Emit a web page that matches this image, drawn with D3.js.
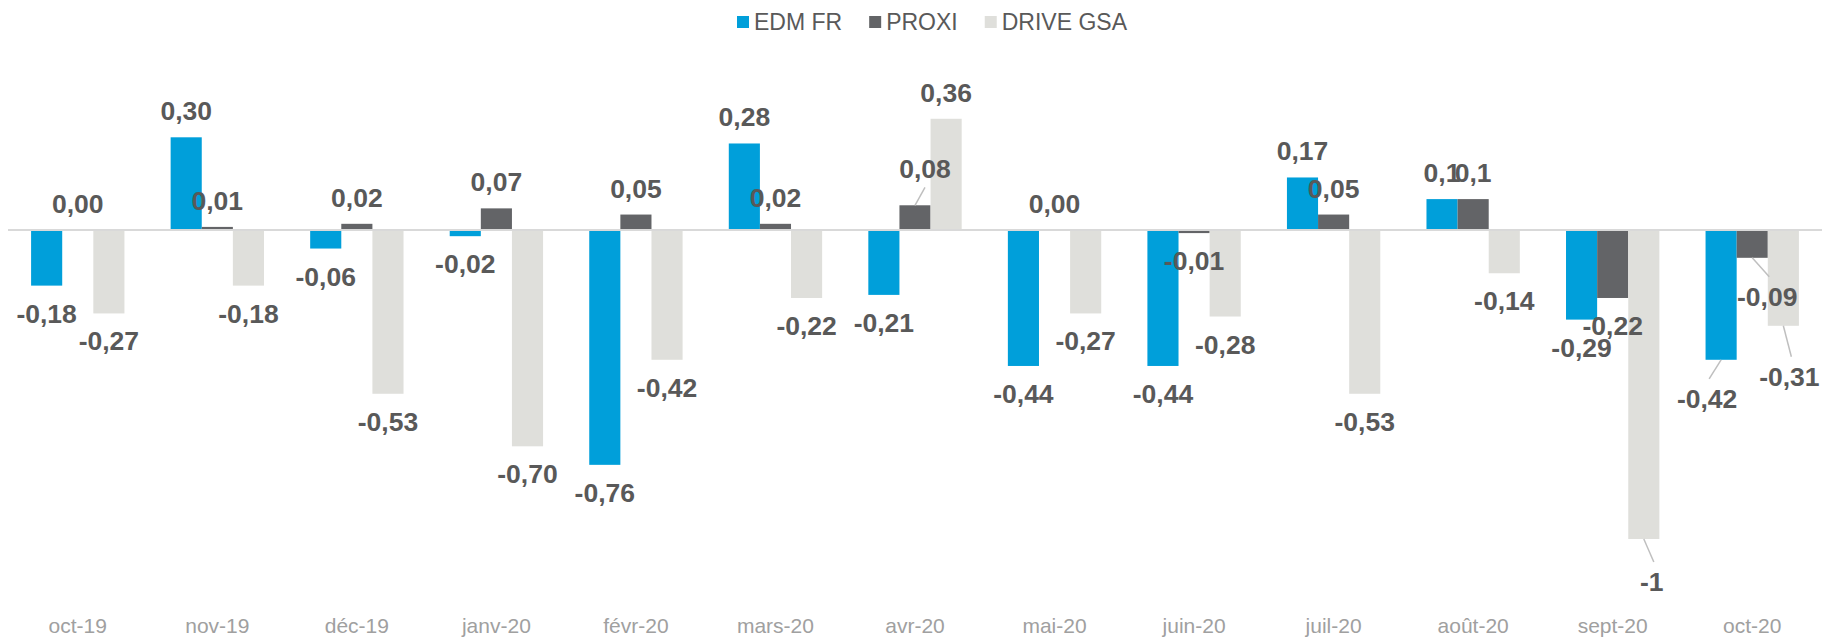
<!DOCTYPE html>
<html>
<head>
<meta charset="utf-8">
<script src="https://cdn.jsdelivr.net/npm/d3@7"></script>
<style>
  html, body { margin: 0; padding: 0; background: #ffffff; }
  svg { display: block; }
</style>
</head>
<body>
<svg id="chart" width="1822" height="637"></svg>
<script>
// ---------- DATA ----------
const categories = ["oct-19","nov-19","déc-19","janv-20","févr-20","mars-20","avr-20","mai-20","juin-20","juil-20","août-20","sept-20","oct-20"];
const seriesNames = ["EDM FR","PROXI","DRIVE GSA"];
const edmFr    = [-0.18, 0.30, -0.06, -0.02, -0.76, 0.28, -0.21, -0.44, -0.44, 0.17, 0.10, -0.29, -0.42];
const proxi    = [ 0.00, 0.01,  0.02,  0.07,  0.05, 0.02,  0.08,  0.00, -0.01, 0.05, 0.10, -0.22, -0.09];
const driveGsa = [-0.27, -0.18, -0.53, -0.70, -0.42, -0.22, 0.36, -0.27, -0.28, -0.53, -0.14, -1.00, -0.31];
const edmFrLabels    = ["-0,18","0,30","-0,06","-0,02","-0,76","0,28","-0,21","-0,44","-0,44","0,17","0,1","-0,29","-0,42"];
const proxiLabels    = ["0,00","0,01","0,02","0,07","0,05","0,02","0,08","0,00","-0,01","0,05","0,1","-0,22","-0,09"];
const driveGsaLabels = ["-0,27","-0,18","-0,53","-0,70","-0,42","-0,22","0,36","-0,27","-0,28","-0,53","-0,14","-1","-0,31"];

// ---------- STYLE / LAYOUT ----------
const colors = ["#009FDA", "#636467", "#DFDFDB"];
const labelColor = "#595959";
const axisLabelColor = "#a0a0a0";
// manual label displacements (with leader lines), keyed "seriesIndex-categoryIndex"
const labelNudges = {
  "1-6":  {dx: 10, dy: -10},
  "2-11": {dx: 8,  dy: 15},
  "0-12": {dx: -14, dy: 11},
  "1-12": {dx: 15, dy: 11},
  "2-12": {dx: 6,  dy: 23}
};

const seriesValues = [edmFr, proxi, driveGsa];
const seriesLabels = [edmFrLabels, proxiLabels, driveGsaLabels];

const svg = d3.select("#chart");
const W = 1822, H = 637;

const x = d3.scaleBand().domain(categories).range([8, 1822]).paddingInner(0).paddingOuter(0);
const groupRatio = 0.669;
const groupW = x.step() * groupRatio;
const xs = d3.scaleBand().domain(seriesNames).range([0, groupW]);
const y = d3.scaleLinear().domain([-1.15, 0.7]).range([230 + 1.15 * 309, 230 - 0.7 * 309]);

const fontFamily = "'Liberation Sans', Arial, Helvetica, sans-serif";

// points
const points = [];
seriesNames.forEach((s, si) => {
  categories.forEach((c, ci) => {
    const v = seriesValues[si][ci];
    const bx = x(c) + (x.step() - groupW) / 2 + xs(s);
    points.push({s, si, c, ci, v, label: seriesLabels[si][ci], bx, bw: xs.bandwidth()});
  });
});

// bars
svg.append("g").selectAll("rect").data(points).join("rect")
  .attr("x", d => d.bx)
  .attr("width", d => d.bw)
  .attr("y", d => Math.min(y(d.v), y(0)))
  .attr("height", d => Math.abs(y(d.v) - y(0)))
  .attr("fill", d => colors[d.si]);

// zero line
svg.append("line")
  .attr("x1", 8).attr("x2", W)
  .attr("y1", y(0)).attr("y2", y(0))
  .attr("stroke", "#d9d9d9").attr("stroke-width", 2);

// data labels
const fs = 26.5, capH = 19;
const lbl = svg.append("g");
points.forEach(d => {
  const cx = d.bx + d.bw / 2;
  const pos = d.v >= 0;
  let tx = cx;
  let ty = pos ? y(d.v) - 17 : y(d.v) + 18 + capH;
  const n = labelNudges[d.si + "-" + d.ci];
  if (n) {
    tx += n.dx; ty += n.dy;
    const y1 = y(d.v);
    const y2 = pos ? ty + 9 : ty - capH - 10;
    lbl.append("line")
      .attr("x1", cx).attr("y1", y1)
      .attr("x2", tx + (pos ? 0 : 2)).attr("y2", y2)
      .attr("stroke", "#bfbfbf").attr("stroke-width", 1.5);
  }
  lbl.append("text")
    .attr("x", tx).attr("y", ty)
    .attr("text-anchor", "middle")
    .attr("font-family", fontFamily)
    .attr("font-weight", "bold")
    .attr("font-size", fs)
    .attr("fill", labelColor)
    .text(d.label);
});

// x axis labels
const xAxis = d3.axisBottom(x).tickSize(0).tickPadding(4);
const gx = svg.append("g").attr("transform", "translate(0,614)").call(xAxis);
gx.select(".domain").remove();
gx.selectAll("text")
  .attr("font-family", fontFamily)
  .attr("font-size", 21)
  .attr("fill", axisLabelColor);

// legend
const legend = svg.append("g");
let lx = 737;
seriesNames.forEach((s, i) => {
  legend.append("rect").attr("x", lx).attr("y", 16).attr("width", 12).attr("height", 12).attr("fill", colors[i]);
  const t = legend.append("text")
    .attr("x", lx + 17).attr("y", 30)
    .attr("font-family", fontFamily)
    .attr("font-size", 23)
    .attr("fill", labelColor)
    .text(s);
  lx += 17 + t.node().getComputedTextLength() + 27;
});
</script>
</body>
</html>
